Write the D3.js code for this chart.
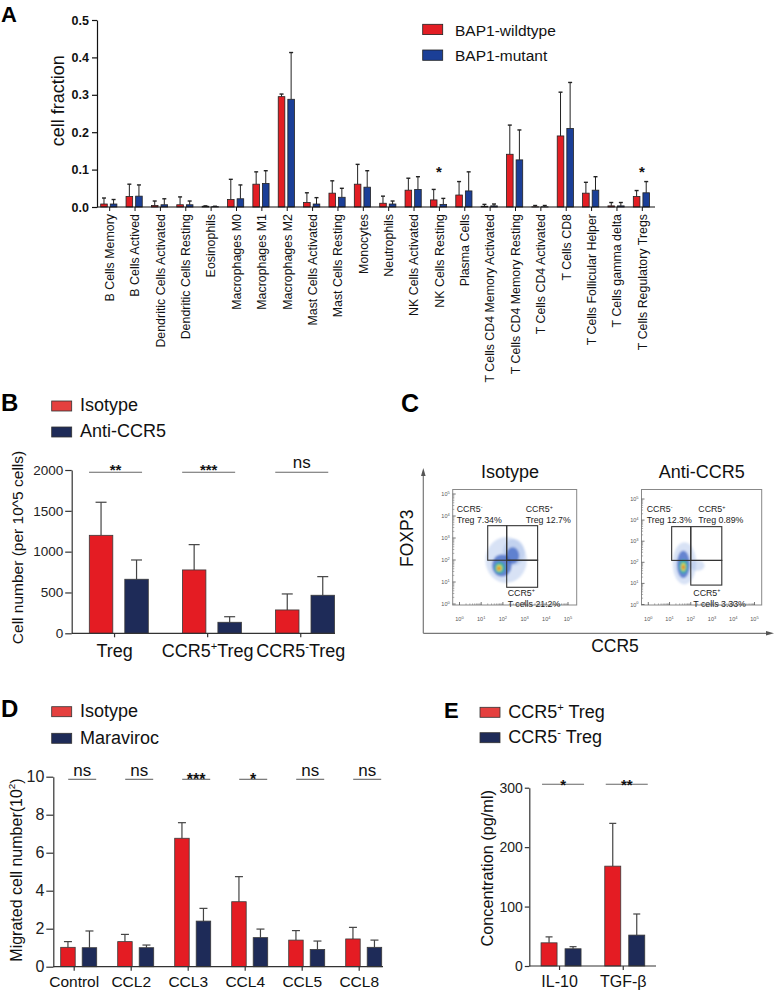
<!DOCTYPE html>
<html><head><meta charset="utf-8">
<script src="https://cdn.jsdelivr.net/npm/d3@7"></script>
<style>
body{margin:0;background:#fff;}
svg{display:block;font-family:Arial,"Liberation Sans",Helvetica,sans-serif;}
</style></head><body>
<svg id="fig" width="774" height="991"></svg>
<script>
// ================= DATA =================
// Panel A
const aCategories = ["B Cells Memory","B Cells Actived","Dendritic Cells Activated","Dendritic Cells Resting","Eosinophils","Macrophages M0","Macrophages M1","Macrophages M2","Mast Cells Activated","Mast Cells Resting","Monocytes","Neutrophils","NK Cells Activated","NK Cells Resting","Plasma Cells","T Cells CD4 Memory Activated","T Cells CD4 Memory Resting","T Cells CD4 Activated","T Cells CD8","T Cells Follicular Helper","T Cells gamma delta","T Cells Regulatory Tregs"];
const aSeries = ["BAP1-wildtype","BAP1-mutant"];
const aWildtype    = [0.008,0.028,0.004,0.006,0.002,0.020,0.061,0.295,0.012,0.037,0.061,0.010,0.045,0.019,0.032,0.002,0.141,0.0005,0.190,0.037,0.003,0.028];
const aWildtypeErr = [0.016,0.033,0.012,0.021,0.001,0.054,0.033,0.007,0.026,0.033,0.053,0.019,0.032,0.028,0.036,0.005,0.078,0.0035,0.117,0.029,0.009,0.016];
const aMutant      = [0.008,0.029,0.006,0.006,0.001,0.022,0.063,0.288,0.008,0.026,0.053,0.008,0.047,0.007,0.043,0.003,0.126,0.0005,0.210,0.045,0.003,0.038];
const aMutantErr   = [0.012,0.030,0.016,0.010,0.001,0.037,0.034,0.125,0.017,0.024,0.044,0.008,0.034,0.016,0.051,0.005,0.080,0.0035,0.123,0.036,0.009,0.030];
const aSignificant = ["NK Cells Resting","T Cells Regulatory Tregs"];
const aYTicks = [0,0.1,0.2,0.3,0.4,0.5];

// Panel B
const bGroups = ["Treg","CCR5⁺Treg","CCR5⁻Treg"];
const bSeries = ["Isotype","Anti-CCR5"];
const bIsotype = [1200,776,286];
const bIsotypeErr = [405,310,196];
const bAnti = [662,135,466];
const bAntiErr = [236,68,228];
const bSig = ["**","***","ns"];
const bYTicks = [0,500,1000,1500,2000];

// Panel C (flow cytometry)
const cTitles = ["Isotype","Anti-CCR5"];
const cTregNeg = ["7.34%","12.3%"];
const cTregPos = ["12.7%","0.89%"];
const cTcellPos = ["21.2%","3.33%"];
const cGateX = [[1.30,2.175,3.60],[1.10,2.00,3.46]];   // log10 CCR5
const cGateY = [[0.76,1.99,3.56],[0.92,2.09,3.69]];    // log10 FOXP3
// density contours: [log x, log y, radius x, radius y, level]
const cDensityIsotype = [[2.15,2.0,0.95,1.05,0],[2.5,2.35,0.5,0.6,0],[1.95,1.75,0.45,0.5,1],[2.45,2.2,0.3,0.38,1],[1.85,1.65,0.24,0.26,2],[1.83,1.63,0.13,0.15,3],[1.82,1.62,0.065,0.075,4]];
const cDensityAnti = [[1.7,1.95,0.55,1.0,0],[2.3,1.85,0.35,0.25,0],[1.65,1.9,0.3,0.65,1],[1.65,1.8,0.19,0.33,2],[1.65,1.78,0.11,0.19,3],[1.65,1.77,0.055,0.095,4]];
const cDecades = [0,1,2,3,4,5];

// Panel D
const dGroups = ["Control","CCL2","CCL3","CCL4","CCL5","CCL8"];
const dSeries = ["Isotype","Maraviroc"];
const dIsotype = [1.02,1.32,6.76,3.42,1.40,1.46];
const dIsotypeErr = [0.30,0.38,0.82,1.32,0.50,0.61];
const dMaraviroc = [1.00,1.00,2.40,1.53,0.91,1.02];
const dMaravirocErr = [0.88,0.14,0.67,0.45,0.44,0.38];
const dSig = ["ns","ns","***","*","ns","ns"];
const dYTicks = [0,2,4,6,8,10];

// Panel E
const eGroups = ["IL-10","TGF-β"];
const eSeries = ["CCR5⁺ Treg","CCR5⁻ Treg"];
const ePos = [39,168];
const ePosErr = [10,72];
const eNeg = [29,52];
const eNegErr = [3.5,35.5];
const eSig = ["*","**"];
const eYTicks = [0,100,200,300];

// ================= DRAW =================
const svg = d3.select("#fig");
const RED = "#e41c23", NAVY = "#1e2b58";

function rich(sel, str, fs){
  const map = {"⁺":"+","⁻":"-","²":"2"};
  const parts = str.split(/([⁺⁻²])/).filter(s=>s!=="");
  let up = false;
  parts.forEach(p=>{
    if(map[p]!==undefined){
      sel.append("tspan").attr("font-size", fs*0.62).attr("dy", up?0:-fs*0.38).text(map[p]);
      up = true;
    } else {
      const t = sel.append("tspan").text(p);
      if(up){ t.attr("dy", fs*0.38); up=false; }
    }
  });
}

function panelLabel(txt, x, y, fs){
  svg.append("text").attr("x",x).attr("y",y).attr("font-size",fs).attr("font-weight","bold").text(txt);
}

// ---------- Panel A ----------
(function(){
  const g = svg.append("g");
  const x = d3.scaleBand().domain(aCategories).range([97,655]).padding(0);
  const y = d3.scaleLinear().domain([0,0.5]).range([207,20]);
  const sub = d3.scaleBand().domain(aSeries).range([-9,7.2]).paddingInner(0.3125);
  const col = {"BAP1-wildtype":"#e31e24","BAP1-mutant":"#1b3f97"};
  const series = [{name:aSeries[0], v:aWildtype, e:aWildtypeErr},{name:aSeries[1], v:aMutant, e:aMutantErr}];
  const cx = d => x(d)+x.bandwidth()/2;
  series.forEach(s=>{
    const rows = aCategories.map((c,i)=>({c, v:s.v[i], e:s.e[i]}));
    const mid = d => cx(d.c)+sub(s.name)+sub.bandwidth()/2;
    g.selectAll(null).data(rows).join("line")
      .attr("x1",mid).attr("x2",mid).attr("y1",d=>y(d.v)).attr("y2",d=>y(d.v+d.e))
      .attr("stroke","#222").attr("stroke-width",1);
    g.selectAll(null).data(rows).join("line")
      .attr("x1",d=>mid(d)-2).attr("x2",d=>mid(d)+2).attr("y1",d=>y(d.v+d.e)).attr("y2",d=>y(d.v+d.e))
      .attr("stroke","#222").attr("stroke-width",1.4);
    g.selectAll(null).data(rows).join("rect")
      .attr("x",d=>cx(d.c)+sub(s.name)).attr("width",sub.bandwidth())
      .attr("y",d=>y(d.v)).attr("height",d=>y(0)-y(d.v))
      .attr("fill",col[s.name]).attr("stroke","#222").attr("stroke-width",0.8);
  });
  const ax = g.append("g").attr("transform","translate(97,0)")
    .call(d3.axisLeft(y).tickValues(aYTicks).tickFormat(d3.format(".1f")).tickSize(5).tickSizeOuter(0).tickPadding(3));
  ax.selectAll("text").attr("font-size",12.5).attr("font-weight","bold").attr("fill","#111").attr("font-family","Arial, 'Liberation Sans', sans-serif");
  ax.selectAll("line,path").attr("stroke","#111").attr("stroke-width",1.2);
  g.append("line").attr("x1",97).attr("x2",655).attr("y1",207).attr("y2",207).attr("stroke","#111").attr("stroke-width",1.2);
  g.selectAll(null).data(aCategories).join("line")
    .attr("x1",cx).attr("x2",cx).attr("y1",207).attr("y2",211).attr("stroke","#111").attr("stroke-width",1);
  g.selectAll(null).data(aCategories).join("text")
    .attr("transform",d=>`translate(${cx(d)+4.3},214) rotate(-90)`)
    .attr("text-anchor","end").attr("font-size",12.4).attr("fill","#111").text(d=>d);
  g.selectAll(null).data(aSignificant).join("text")
    .attr("x",d=>cx(d)-0.5).attr("y",177).attr("text-anchor","middle").attr("font-size",15).attr("font-weight","bold").attr("fill","#111").text("*");
  g.append("text").attr("transform","translate(64,100.8) rotate(-90)").attr("text-anchor","middle")
    .attr("font-size",18).attr("fill","#111").text("cell fraction");
  // legend
  const lg = [[24.3,35.5],[50,61]];
  aSeries.forEach((s,i)=>{
    g.append("rect").attr("x",422.7).attr("y",lg[i][0]).attr("width",20).attr("height",10.3)
      .attr("fill",col[s]).attr("stroke","#222").attr("stroke-width",0.8);
    g.append("text").attr("x",455).attr("y",lg[i][1]).attr("font-size",15.5).attr("fill","#111").text(s);
  });
  panelLabel("A",1,22,22);
})();

// ---------- generic grouped bar panel ----------
function barPanel(o){
  const g = svg.append("g");
  const x0 = d3.scaleBand().domain(o.groups).range(o.xRange).padding(0);
  const x1 = d3.scaleBand().domain(o.seriesNames).range(o.subRange).paddingInner(o.subPad);
  const y = d3.scaleLinear().domain(o.yDomain).range(o.yRange);
  const cx = d => x0(d)+x0.bandwidth()/2;
  o.series.forEach((s,si)=>{
    const rows = o.groups.map((grp,i)=>({grp, v:s.values[i], e:s.errors[i]}));
    const mid = d => cx(d.grp)+x1(o.seriesNames[si])+x1.bandwidth()/2;
    g.selectAll(null).data(rows).join("line")
      .attr("x1",mid).attr("x2",mid).attr("y1",d=>y(d.v)).attr("y2",d=>y(d.v+d.e))
      .attr("stroke","#444").attr("stroke-width",1.2);
    g.selectAll(null).data(rows).join("line")
      .attr("x1",d=>mid(d)-o.cap).attr("x2",d=>mid(d)+o.cap).attr("y1",d=>y(d.v+d.e)).attr("y2",d=>y(d.v+d.e))
      .attr("stroke","#444").attr("stroke-width",1.2);
    g.selectAll(null).data(rows).join("rect")
      .attr("x",d=>cx(d.grp)+x1(o.seriesNames[si])).attr("width",x1.bandwidth())
      .attr("y",d=>y(d.v)).attr("height",d=>y(o.yDomain[0])-y(d.v))
      .attr("fill",s.color).attr("stroke","#3a3a3a").attr("stroke-width",0.8);
  });
  const ax = g.append("g").attr("transform",`translate(${o.axisX},0)`)
    .call(d3.axisLeft(y).tickValues(o.yTicks).tickFormat(d3.format("d")).tickSize(o.tickLen).tickSizeOuter(0).tickPadding(2));
  ax.selectAll("text").attr("font-size",o.tickFs).attr("fill","#222").attr("font-family","Arial, 'Liberation Sans', sans-serif");
  ax.selectAll("line,path").attr("stroke","#333").attr("stroke-width",1.2);
  const y0 = o.yRange[0];
  g.append("line").attr("x1",o.axisX).attr("x2",o.xEnd).attr("y1",y0).attr("y2",y0).attr("stroke","#333").attr("stroke-width",1.2);
  g.selectAll(null).data(o.groups).join("line")
    .attr("x1",d=>cx(d)+o.labelDx).attr("x2",d=>cx(d)+o.labelDx).attr("y1",y0).attr("y2",y0+4)
    .attr("stroke","#333").attr("stroke-width",1.2);
  g.selectAll(null).data(o.groups).join("text")
    .attr("x",d=>cx(d)+o.labelDx).attr("y",o.labelY).attr("text-anchor","middle")
    .attr("font-size",o.labelFs).attr("fill","#111")
    .each(function(d){ rich(d3.select(this), d, o.labelFs); });
  // significance
  g.selectAll(null).data(o.groups).join("line")
    .attr("x1",d=>cx(d)+o.sigDx-o.sigHalf).attr("x2",d=>cx(d)+o.sigDx+o.sigHalf)
    .attr("y1",o.sigY).attr("y2",o.sigY).attr("stroke","#666").attr("stroke-width",1.1);
  g.selectAll(null).data(o.groups.map((d,i)=>({d,s:o.sig[i]}))).join("text")
    .attr("x",r=>cx(r.d)+o.sigDx).attr("text-anchor","middle")
    .attr("y",r=>r.s==="ns"?o.sigY-o.nsGap:o.sigY+o.starDy)
    .attr("font-size",r=>r.s==="ns"?o.nsFs:o.starFs)
    .attr("font-weight",r=>r.s==="ns"?"normal":"bold").attr("fill","#111")
    .text(r=>r.s);
  // y title
  g.append("text").attr("transform",`translate(${o.titleX},${o.titleY}) rotate(-90)`)
    .attr("text-anchor","middle").attr("font-size",o.titleFs).attr("fill","#111")
    .each(function(){ rich(d3.select(this), o.title, o.titleFs); });
  // legend
  o.series.forEach((s,i)=>{
    g.append("rect").attr("x",o.legX).attr("y",o.legY[i]).attr("width",20).attr("height",10)
      .attr("fill",s.legColor).attr("stroke","#333").attr("stroke-width",0.8);
    g.append("text").attr("x",o.legX+o.legGap).attr("y",o.legY[i]+10.3).attr("font-size",o.legFs).attr("fill","#111")
      .each(function(){ rich(d3.select(this), o.seriesNames[i], o.legFs); });
  });
}

// ---------- Panel B ----------
barPanel({
  groups:bGroups, seriesNames:bSeries,
  series:[{values:bIsotype, errors:bIsotypeErr, color:RED, legColor:"#e5403f"},{values:bAnti, errors:bAntiErr, color:NAVY, legColor:NAVY}],
  xRange:[72,351.3], subRange:[-29.25,29.75], subPad:0.338,
  yDomain:[0,2000], yRange:[633.3,470], yTicks:bYTicks, axisX:71.7, tickLen:6.5, tickFs:13.5,
  xEnd:335, labelDx:-4, labelY:656.5, labelFs:18, cap:5.5,
  sig:bSig, sigY:472.3, sigDx:-3, sigHalf:26.5, nsGap:4, nsFs:17, starDy:3, starFs:15,
  title:"Cell number (per 10^5 cells)", titleX:22.8, titleY:547.5, titleFs:15.5,
  legX:51.7, legY:[401,427], legGap:28.3, legFs:18
});
panelLabel("B",1,411,24);

// ---------- Panel D ----------
barPanel({
  groups:dGroups, seriesNames:dSeries,
  series:[{values:dIsotype, errors:dIsotypeErr, color:RED, legColor:"#e5403f"},{values:dMaraviroc, errors:dMaravirocErr, color:NAVY, legColor:NAVY}],
  xRange:[50.2,392.2], subRange:[-18,18], subPad:0.326,
  yDomain:[0,10], yRange:[966.7,776.7], yTicks:dYTicks, axisX:53.3, tickLen:7, tickFs:16,
  xEnd:383, labelDx:-4.5, labelY:986.5, labelFs:15.5, cap:4,
  sig:dSig, sigY:779.3, sigDx:3.5, sigHalf:14, nsGap:3.3, nsFs:17, starDy:6, starFs:16,
  title:"Migrated cell number(10²)", titleX:21.5, titleY:870, titleFs:16,
  legX:51.7, legY:[706.7,733.3], legGap:28.3, legFs:18
});
panelLabel("D",1,717,24);

// ---------- Panel E ----------
barPanel({
  groups:eGroups, seriesNames:eSeries,
  series:[{values:ePos, errors:ePosErr, color:RED, legColor:"#e5403f"},{values:eNeg, errors:eNegErr, color:NAVY, legColor:NAVY}],
  xRange:[529.2,656.6], subRange:[-20,20], subPad:0.333,
  yDomain:[0,300], yRange:[966,787.7], yTicks:eYTicks, axisX:529.3, tickLen:4.5, tickFs:14,
  xEnd:656, labelDx:-1.5, labelY:986.5, labelFs:16, cap:3.5,
  sig:eSig, sigY:784.3, sigDx:2, sigHalf:21, nsGap:3, nsFs:17, starDy:5.7, starFs:15,
  title:"Concentration (pg/ml)", titleX:493.4, titleY:868.3, titleFs:16.3,
  legX:480, legY:[707.3,732.7], legGap:28.3, legFs:18
});
panelLabel("E",444,717.5,22);

// ---------- Panel C ----------
(function(){
  const g = svg.append("g");
  const defs = svg.append("defs");
  defs.append("filter").attr("id","soft").attr("x","-50%").attr("y","-50%").attr("width","200%").attr("height","200%")
    .append("feGaussianBlur").attr("stdDeviation",1.1);
  // outer axes with arrows
  g.append("line").attr("x1",423.3).attr("x2",423.3).attr("y1",633.3).attr("y2",474).attr("stroke","#777").attr("stroke-width",1.2);
  g.append("path").attr("d","M423.3,468 L421,476 L425.6,476 Z").attr("fill","#555");
  g.append("line").attr("x1",423.3).attr("x2",768).attr("y1",633.3).attr("y2",633.3).attr("stroke","#777").attr("stroke-width",1.2);
  g.append("path").attr("d","M774,633.3 L766,631 L766,635.6 Z").attr("fill","#555");
  g.append("text").attr("transform","translate(413,538.3) rotate(-90)").attr("text-anchor","middle").attr("font-size",17.5).attr("fill","#111").text("FOXP3");
  g.append("text").attr("x",615).attr("y",651.7).attr("text-anchor","middle").attr("font-size",17.5).attr("fill","#111").text("CCR5");

  const layout = [
    {box:[452.7,489.5,576.7,605], xr:[459.5,568], yr:[604,494], titleX:510,
     lab:[[456.7,512.3],[525.7,512.3],[507.7,595.5]]},
    {box:[641.5,489.5,761.7,605], xr:[648.3,754.5], yr:[604.5,499], titleX:701.7,
     lab:[[646.7,512.3],[698.3,512.3],[693.3,595.5]]}
  ];
  const densities = [cDensityIsotype, cDensityAnti];
  const levelColor = ["#a9bfe8","#3f66c4","#2fb3a6","#dfe23c","#ee5527"];
  const levelOpacity = [0.45,0.75,0.9,0.95,1];
  layout.forEach((L,k)=>{
    const x = d3.scaleLinear().domain([0,5]).range(L.xr);
    const y = d3.scaleLinear().domain([0,5]).range(L.yr);
    const pg = g.append("g");
    const clipId = "clip"+k;
    defs.append("clipPath").attr("id",clipId).append("rect")
      .attr("x",L.box[0]).attr("y",L.box[1]).attr("width",L.box[2]-L.box[0]).attr("height",L.box[3]-L.box[1]);
    pg.append("text").attr("x",L.titleX).attr("y",478).attr("text-anchor","middle").attr("font-size",18).attr("fill","#111").text(cTitles[k]);
    // density
    pg.append("g").attr("clip-path",`url(#${clipId})`).append("g").attr("filter","url(#soft)")
      .selectAll("ellipse").data(densities[k]).join("ellipse")
      .attr("cx",d=>x(d[0])).attr("cy",d=>y(d[1]))
      .attr("rx",d=>x(d[2])-x(0)).attr("ry",d=>y(0)-y(d[3]))
      .attr("fill",d=>levelColor[d[4]]).attr("fill-opacity",d=>levelOpacity[d[4]]);
    // box
    pg.append("rect").attr("x",L.box[0]).attr("y",L.box[1]).attr("width",L.box[2]-L.box[0]).attr("height",L.box[3]-L.box[1])
      .attr("fill","none").attr("stroke","#888").attr("stroke-width",1);
    // gates
    const gx = cGateX[k], gy = cGateY[k];
    const gates = [[gx[0],gy[1],gx[1],gy[2]],[gx[1],gy[1],gx[2],gy[2]],[gx[1],gy[0],gx[2],gy[1]]];
    pg.selectAll(null).data(gates).join("rect")
      .attr("x",d=>x(d[0])).attr("y",d=>y(d[3])).attr("width",d=>x(d[2])-x(d[0])).attr("height",d=>y(d[1])-y(d[3]))
      .attr("fill","none").attr("stroke","#333").attr("stroke-width",1.1);
    // gate labels
    const fs = 8.8;
    const labs = [["CCR5⁻","Treg "+cTregNeg[k]],["CCR5⁺","Treg "+cTregPos[k]],["CCR5⁺","T cells "+cTcellPos[k]]];
    labs.forEach((lb,j)=>{
      const t1 = pg.append("text").attr("x",L.lab[j][0]).attr("y",L.lab[j][1]).attr("font-size",fs).attr("fill","#222");
      rich(t1, lb[0], fs);
      pg.append("text").attr("x",L.lab[j][0]).attr("y",L.lab[j][1]+11).attr("font-size",fs).attr("fill","#222").text(lb[1]);
    });
    // small log axes
    const minor = [];
    cDecades.slice(0,5).forEach(dd=>{ for(let m=2;m<10;m++) minor.push(dd+Math.log10(m)); });
    const bx = L.box[0], by = L.box[3];
    pg.selectAll(null).data(cDecades).join("line").attr("x1",bx).attr("x2",bx+3).attr("y1",d=>y(d)).attr("y2",d=>y(d)).attr("stroke","#555").attr("stroke-width",0.8);
    pg.selectAll(null).data(minor).join("line").attr("x1",bx).attr("x2",bx+1.6).attr("y1",d=>y(d)).attr("y2",d=>y(d)).attr("stroke","#777").attr("stroke-width",0.6);
    pg.selectAll(null).data(cDecades).join("line").attr("y1",by).attr("y2",by-3).attr("x1",d=>x(d)).attr("x2",d=>x(d)).attr("stroke","#555").attr("stroke-width",0.8);
    pg.selectAll(null).data(minor).join("line").attr("y1",by).attr("y2",by-1.6).attr("x1",d=>x(d)).attr("x2",d=>x(d)).attr("stroke","#777").attr("stroke-width",0.6);
    pg.selectAll(null).data(cDecades).join("text").attr("x",bx-3).attr("y",d=>y(d)+2).attr("text-anchor","end")
      .attr("font-size",5.5).attr("fill","#555")
      .each(function(d){ const s=d3.select(this); s.append("tspan").text("10"); s.append("tspan").attr("dy",-2.5).attr("font-size",4).text(d); });
    pg.selectAll(null).data(cDecades).join("text").attr("x",d=>x(d)).attr("y",by+16).attr("text-anchor","middle")
      .attr("font-size",5.5).attr("fill","#555")
      .each(function(d){ const s=d3.select(this); s.append("tspan").text("10"); s.append("tspan").attr("dy",-2.5).attr("font-size",4).text(d); });
  });
  panelLabel("C",401,411.5,25);
})();
</script>
</body></html>
